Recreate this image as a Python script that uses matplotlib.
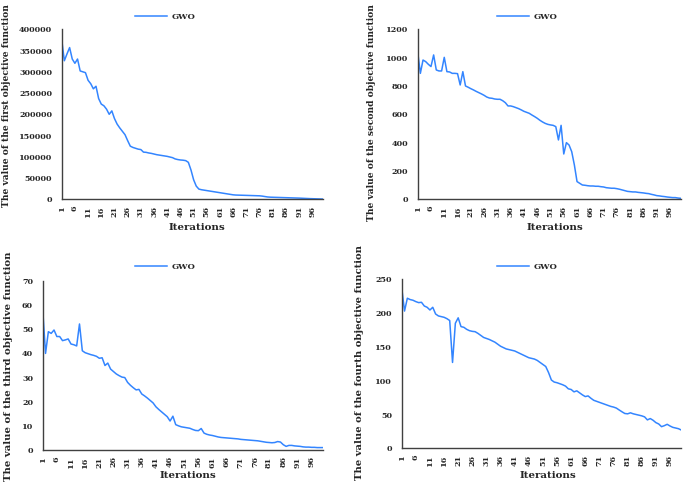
import matplotlib
matplotlib.use("Agg")
import matplotlib.pyplot as plt
import numpy as np

iterations = list(range(1, 101))

first_obj = [376000, 326000, 342000, 357000, 330000, 320000, 330000, 302000, 300000, 298000,
             280000, 272000, 260000, 266000, 237000, 224000, 220000, 212000, 200000, 208000,
             190000, 177000, 168000, 160000, 152000, 138000, 125000, 122000, 120000, 118000,
             117000, 111000, 110500, 109000, 108000, 106500, 105000, 104000, 103000, 102000,
             101000, 99500, 98000, 95000, 93500, 92500, 92000, 91000, 87000, 69000,
             46000, 31000, 24000, 22500, 21500, 20500, 19500, 18500, 17500, 16500,
             15500, 14500, 13500, 12500, 11500, 10500, 10000, 9800, 9600, 9400,
             9200, 9000, 8800, 8600, 8400, 8200, 7500, 6500, 5500, 5000,
             4800, 4600, 4400, 4200, 4000, 3800, 3600, 3400, 3200, 3000,
             2800, 2500, 2200, 1900, 1600, 1400, 1200, 1000, 800, 600]

second_obj = [1040, 889, 983, 972, 953, 937, 1019, 913, 906, 906,
              1002, 901, 899, 889, 889, 887, 807, 901, 800, 791,
              781, 772, 762, 753, 744, 734, 722, 715, 713, 708,
              706, 706, 696, 682, 659, 659, 654, 647, 640, 631,
              621, 614, 607, 595, 584, 572, 558, 546, 536, 529,
              525, 522, 513, 419, 522, 320, 400, 383, 336, 242,
              125, 113, 101, 99, 96, 94, 94, 92, 92, 89,
              87, 82, 80, 78, 78, 75, 71, 66, 61, 56,
              54, 52, 52, 49, 47, 45, 42, 40, 35, 31,
              26, 24, 21, 19, 16, 14, 12, 12, 9, 7]

third_obj = [58.3, 40.0, 49.0, 48.3, 49.7, 47.0, 47.0, 45.3, 45.6, 46.0,
             43.9, 43.6, 43.1, 52.2, 41.1, 40.3, 39.9, 39.5, 39.2, 38.8,
             38.0, 38.2, 35.0, 36.0, 33.5, 32.5, 31.5, 30.8, 30.2, 30.0,
             28.0, 26.8, 25.8, 24.9, 25.1, 23.2, 22.4, 21.5, 20.5, 19.5,
             17.9, 16.8, 15.8, 14.8, 13.8, 12.0, 14.0, 10.5, 10.0, 9.6,
             9.4, 9.2, 9.0, 8.5, 8.1, 8.0, 8.9, 7.0, 6.5, 6.2,
             6.0, 5.7, 5.4, 5.2, 5.1, 5.0, 4.9, 4.8, 4.7, 4.6,
             4.4, 4.3, 4.2, 4.1, 4.0, 3.9, 3.8, 3.6, 3.4, 3.2,
             3.1, 3.0, 3.1, 3.5, 3.3, 2.2, 1.5, 1.9, 1.9, 1.7,
             1.6, 1.5, 1.3, 1.2, 1.2, 1.1, 1.1, 1.0, 1.0, 1.0]

fourth_obj = [237.7, 203.0, 222.0, 220.0, 219.0, 217.0, 215.5, 216.0, 210.5, 208.6,
              204.6, 208.6, 198.7, 195.8, 194.8, 193.8, 191.8, 189.0, 127.0, 185.0,
              193.0, 180.0, 179.0, 176.0, 174.0, 173.0, 172.5, 170.0, 167.0, 164.0,
              162.5, 161.0, 159.0, 157.0, 154.0, 151.0, 149.0, 147.0, 146.0, 145.0,
              144.0, 142.0, 140.0, 138.0, 136.0, 134.0, 133.0, 132.0, 130.0, 127.0,
              124.0, 121.0, 112.0, 101.0, 98.0, 97.0, 95.5, 94.0, 92.0, 88.0,
              87.0, 83.5, 85.0, 82.0, 79.0, 76.5, 77.5, 74.0, 71.0, 69.5,
              68.0, 66.5, 65.0, 63.5, 62.0, 61.0, 59.5, 56.7, 54.0, 51.5,
              51.0, 52.5, 51.0, 50.0, 49.0, 48.0, 46.5, 42.0, 44.0, 41.5,
              38.0, 36.0, 32.0, 33.5, 35.5, 33.0, 31.0, 30.0, 29.0, 27.0]

ylabels = ["The value of the first objective function",
           "The value of the second objective function",
           "The value of the third objective function",
           "The value of the fourth objective function"]
yticks_list = [list(range(0, 400001, 50000)), list(range(0, 1201, 200)),
               list(range(0, 71, 10)), list(range(0, 251, 50))]
xtick_vals = list(range(1, 100, 5))
series_name = "GWO"

W, H = 685, 482
fig = plt.figure(figsize=(W / 100, H / 100), dpi=100)
plt.rcParams['font.family'] = ['DejaVu Serif']

# (left, right, top, bottom) in pixels
boxes = [(61.7, 322.9, 29.3, 199.3), (417.7, 680.6, 29.3, 199.3),
         (42.7, 322.9, 281.0, 450.0), (401.7, 681.3, 279.3, 448.3)]
ylab_pos = [(7, 106), (372, 113), (9, 366), (360, 362)]
xlab_pos = [(197, 228), (555, 227), (188, 476), (548, 476)]
leg_pos = [(135, 17.3), (497, 17.3), (135, 266.7), (497, 266.7)]
data = [first_obj, second_obj, third_obj, fourth_obj]
color = '#3385FF'
txtc = '#262626'
ylab_sizes = [6.6, 6.6, 7.3, 7.2]

for k in range(4):
    l, r, t, b = boxes[k]
    ax = fig.add_axes([l / W, (H - b) / H, (r - l) / W, (b - t) / H])
    ax.plot(iterations, data[k], color=color, lw=1.1, label=series_name)
    ax.set_xlim(1, 100)
    yt = yticks_list[k]
    ax.set_ylim(yt[0], yt[-1])
    ax.set_yticks(yt)
    ax.set_yticklabels([str(v) for v in yt])
    ax.set_xticks(xtick_vals)
    ax.set_xticklabels([str(v) for v in xtick_vals], rotation=90)
    for s in ['top', 'right']:
        ax.spines[s].set_visible(False)
    for s in ['left', 'bottom']:
        ax.spines[s].set_color('#404040')
        ax.spines[s].set_linewidth(1.0)
    ax.tick_params(axis='y', length=0, pad=7, labelsize=5.8, labelcolor=txtc)
    ax.tick_params(axis='x', length=0, pad=4.5, labelsize=5.8, labelcolor=txtc)
    for lab in ax.get_xticklabels() + ax.get_yticklabels():
        lab.set_fontweight('bold')
    lx, ly = leg_pos[k]
    ax.legend(loc='center left', bbox_to_anchor=(lx / W, (H - ly) / H),
              bbox_transform=fig.transFigure, frameon=False, borderpad=0,
              borderaxespad=0, handlelength=3.84, handletextpad=0.5,
              prop={'size': 6, 'weight': 'bold'}, labelcolor=txtc)
    yx, yy = ylab_pos[k]
    fig.text(yx / W, (H - yy) / H, ylabels[k], rotation=90, ha='center', va='center',
             fontsize=ylab_sizes[k], fontweight='bold', color=txtc)
    xx, xy = xlab_pos[k]
    fig.text(xx / W, (H - xy) / H, "Iterations", ha='center', va='center',
             fontsize=7.4, fontweight='bold', color=txtc)

fig.savefig("out.png", dpi=100)
